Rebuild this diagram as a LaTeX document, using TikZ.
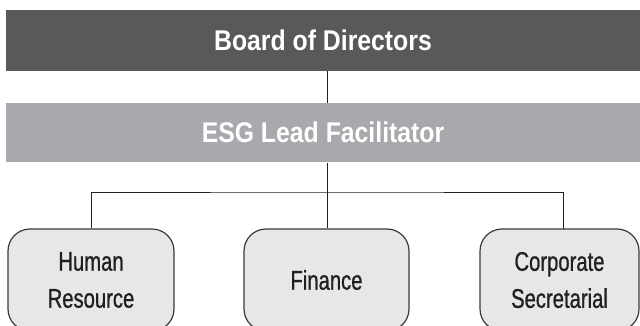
\documentclass[tikz,border=0pt]{standalone}
\usepackage{fontspec}
\setmainfont{Liberation Sans}[FakeStretch=0.75, FakeBold=0.8]
\newfontfamily\barfont{Liberation Sans}[FakeStretch=0.87]
\definecolor{bardark}{HTML}{58595B}
\definecolor{barlight}{HTML}{A7A9AC}
\definecolor{boxfill}{HTML}{E6E7E8}
\definecolor{ink}{HTML}{231F20}
\definecolor{boxline}{HTML}{3A3A3C}
\tikzset{
  bar/.style={rectangle, inner sep=0pt, minimum width=634pt, text=white,
    font=\barfont\bfseries\fontsize{28.5}{30}\selectfont},
  unitbox/.style={rectangle, rounded corners=22pt, draw=boxline, line width=1.2pt,
    fill=boxfill, text=ink, align=center, inner sep=0pt, minimum height=102pt,
    font=\fontsize{27}{37}\selectfont},
  link/.style={draw=ink, line width=0.9pt}
}
\begin{document}
\begin{tikzpicture}[x=1pt,y=1pt]
\useasboundingbox (0,0) rectangle (640,-326);
\clip (0,0) rectangle (640,-326);
\fill[white] (0,0) rectangle (640,-326);
\node[bar, fill=bardark, minimum height=61pt] (board) at (323,-40.5) {Board of Directors};
\node[bar, fill=barlight, minimum height=59.5pt] (esg) at (323,-132.75) {ESG Lead Facilitator};
\node[unitbox, minimum width=166pt] (hr) at (91,-280) {Human\\Resource};
\node[unitbox, minimum width=165pt] (fin) at (326.5,-280) {Finance};
\node[unitbox, minimum width=159pt] (cs) at (559.5,-280) {Corporate\\Secretarial};
\coordinate (bus) at (327,-192);
\coordinate (csin) at (563,-229);
\draw[link] (board.south -| bus) -- (esg.north -| bus);
\draw[link] (esg.south -| bus) -- (fin.north -| bus);
\draw[link] (hr.north) |- (bus) -| (csin);
\end{tikzpicture}
\end{document}
